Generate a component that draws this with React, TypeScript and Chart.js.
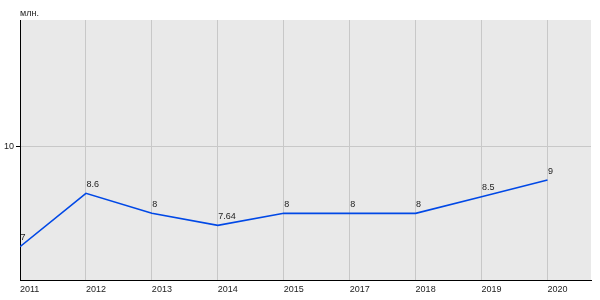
import React, { useEffect, useRef } from "react";
import { Chart, registerables } from "chart.js";

Chart.register(...registerables);

const YEARS = ["2011", "2012", "2013", "2014", "2015", "2017", "2018", "2019", "2020"];
const VALUES = [7, 8.6, 8, 7.64, 8, 8, 8, 8.5, 9];
const POINT_LABELS = ["7", "8.6", "8", "7.64", "8", "8", "8", "8.5", "9"];
const Y_TICKS = [10];
const Y_MIN = 6;
const Y_MAX = 13.8;
const X_MAX = 8.66;
const UNIT = "млн.";

const FONT = "Liberation Sans, Arial, sans-serif";

const bgPlugin = {
  id: "plotBg",
  beforeDraw(chart: any) {
    const { ctx, chartArea } = chart;
    ctx.save();
    ctx.fillStyle = "#e9e9e9";
    ctx.fillRect(chartArea.left, chartArea.top, chartArea.right - chartArea.left, chartArea.bottom - chartArea.top);
    ctx.restore();
  },
};

const labelPlugin = {
  id: "pointLabels",
  afterDatasetsDraw(chart: any) {
    const { ctx, chartArea } = chart;
    const meta = chart.getDatasetMeta(0);
    ctx.save();
    ctx.font = `9px ${FONT}`;
    ctx.fillStyle = "#222";
    ctx.textAlign = "left";
    ctx.textBaseline = "alphabetic";
    meta.data.forEach((el: any, i: number) => {
      ctx.fillText(POINT_LABELS[i], el.x + 0.5, el.y - 6.5);
    });
    ctx.fillText(UNIT, chartArea.left, chartArea.top - 4);
    ctx.restore();
  },
};

export default function App() {
  const ref = useRef<HTMLCanvasElement>(null);
  useEffect(() => {
    if (!ref.current) return;
    const chart = new Chart(ref.current, {
      type: "line",
      data: {
        datasets: [
          {
            data: VALUES.map((v, i) => ({ x: i, y: v })),
            borderColor: "#0048e6",
            borderWidth: 1.6,
            pointRadius: 0,
            tension: 0,
            fill: false,
          },
        ],
      },
      options: {
        responsive: false,
        animation: false,
        layout: { padding: { top: 20, right: 9, left: 0, bottom: 0 } },
        plugins: { legend: { display: false }, tooltip: { enabled: false } },
        scales: {
          x: {
            type: "linear",
            min: 0,
            max: X_MAX,
            afterBuildTicks: (s: any) => {
              s.ticks = YEARS.map((_, i) => ({ value: i }));
            },
            afterFit: (s: any) => {
              s.height = 20;
            },
            grid: { color: "#c8c8c8", drawTicks: false, lineWidth: 1 },
            border: { color: "#000", width: 1 },
            ticks: {
              align: "start",
              maxRotation: 0,
              autoSkip: false,
              padding: 4,
              color: "#222",
              font: { size: 9, family: FONT },
              callback: (v: any) => YEARS[v] ?? "",
            },
          },
          y: {
            min: Y_MIN,
            max: Y_MAX,
            afterBuildTicks: (s: any) => {
              s.ticks = Y_TICKS.map((v) => ({ value: v }));
            },
            afterFit: (s: any) => {
              s.width = 20;
            },
            grid: { color: "#c8c8c8", tickColor: "#000", tickLength: 4, lineWidth: 1 },
            border: { color: "#000", width: 1 },
            ticks: {
              padding: 2,
              color: "#222",
              font: { size: 9, family: FONT },
            },
          },
        },
      },
      plugins: [bgPlugin, labelPlugin],
    } as any);
    return () => chart.destroy();
  }, []);
  return (
    <canvas
      ref={ref}
      width={600}
      height={300}
      style={{ position: "absolute", left: 0, top: 0, width: 600, height: 300 }}
    />
  );
}
